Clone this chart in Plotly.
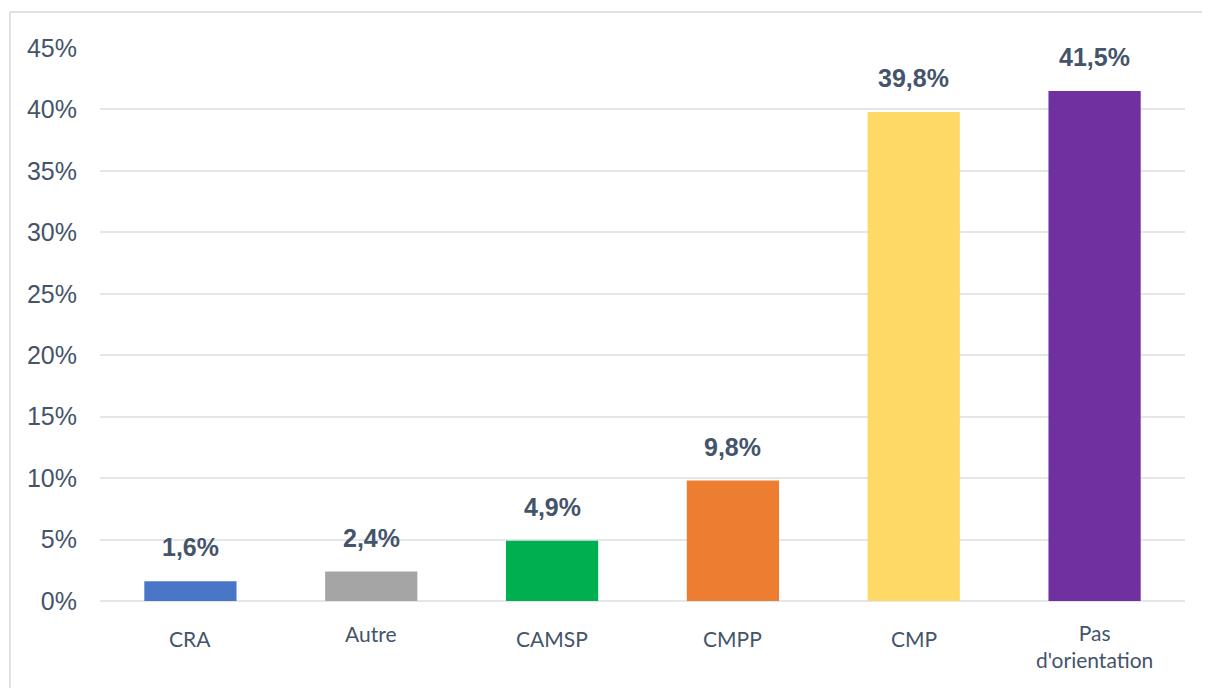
import plotly.graph_objects as go

categories = ["CRA", "Autre", "CAMSP", "CMPP", "CMP", "Pas d'orientation"]
category_labels = ["CRA", "Autre", "CAMSP", "CMPP", "CMP", "Pas<br>d'orientation"]
values = [1.6, 2.4, 4.9, 9.8, 39.8, 41.5]
value_labels = ["1,6%", "2,4%", "4,9%", "9,8%", "39,8%", "41,5%"]
bar_colors = ["#4A76C8", "#A5A5A5", "#00B050", "#ED7D31", "#FFD966", "#7030A0"]
y_ticks = [0, 5, 10, 15, 20, 25, 30, 35, 40, 45]
y_tick_labels = [f"{v}%" for v in y_ticks]

# page body has an 8px default margin: figure coordinates = page pixels - 8
OFF = 8
W, H = 1210 - OFF, 688 - OFF
L, T = 100 - OFF, 48 - OFF
R = W - (1185 - OFF)
B = H - (601 - OFF)
plot_h = H - T - B
plot_w = W - L - R
TEXT = "#44546A"

fig = go.Figure()
fig.add_trace(go.Bar(
    x=categories, y=values,
    marker=dict(color=bar_colors, line=dict(width=0)),
    width=0.51,
    hoverinfo="x+y",
))

annotations = []
for c, v, t in zip(categories, values, value_labels):
    annotations.append(dict(
        x=c, y=v, xref="x", yref="y", text=f"<b>{t}</b>", showarrow=False,
        yanchor="middle", yshift=34,
        font=dict(family="Liberation Sans, Arial, sans-serif", size=25, color=TEXT),
    ))
for c, lab in zip(categories, category_labels):
    center_px = (646 if "<br>" in lab else (633 if c == "Autre" else 638)) - OFF
    annotations.append(dict(
        x=c, y=(H - B - center_px) / plot_h, xref="x", yref="paper", text=lab,
        showarrow=False, yanchor="middle", align="center",
        font=dict(family="Lato, Carlito, sans-serif", size=21, color=TEXT),
    ))

bx = (10 - OFF - L) / plot_w
by = (H - B - (12 - OFF)) / plot_h
border = dict(color="#DDE2E8", width=2)

fig.update_layout(
    width=W, height=H,
    margin=dict(l=L, r=R, t=T, b=B),
    paper_bgcolor="white", plot_bgcolor="white",
    showlegend=False,
    xaxis=dict(showticklabels=False, showgrid=False, zeroline=False, showline=False,
               ticks=""),
    yaxis=dict(range=[0, 45], tickvals=y_ticks, ticktext=y_tick_labels,
               showgrid=True, gridcolor="#E3E6EB", gridwidth=2,
               zeroline=True, zerolinecolor="#E3E6EB", zerolinewidth=2,
               showline=False, ticks="", ticklabelstandoff=22,
               tickfont=dict(family="Liberation Sans, Arial, sans-serif", size=25, color=TEXT)),
    annotations=annotations,
    shapes=[
        dict(type="line", xref="paper", yref="paper", x0=bx, x1=(W - L) / plot_w,
             y0=by, y1=by, line=border, layer="below"),
        dict(type="line", xref="paper", yref="paper", x0=bx, x1=bx,
             y0=by, y1=-B / plot_h, line=border, layer="below"),
    ],
)

fig.write_html("out.html")
